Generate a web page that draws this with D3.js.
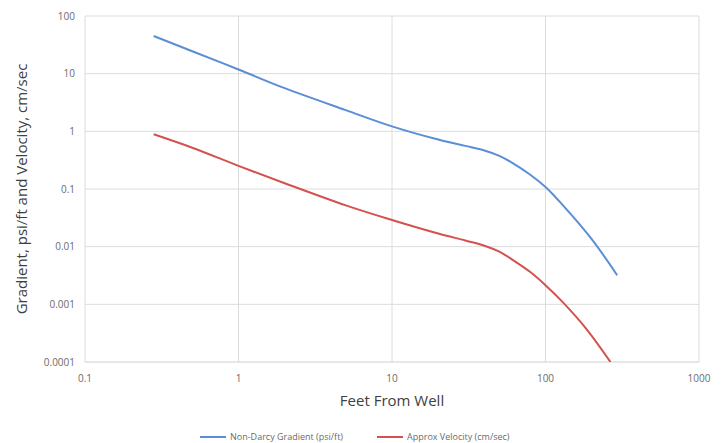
<!DOCTYPE html>
<html>
<head>
<meta charset="utf-8">
<script src="https://cdn.jsdelivr.net/npm/d3@7"></script>
<style>
  body { margin: 0; background: #fff; }
  svg { display: block; font-family: "Open Sans", "Noto Sans", sans-serif; }
</style>
</head>
<body>
<div id="chart"></div>
<script>
// data (log-log plot)
var feet = [0.28, 0.5, 1, 2, 5, 10, 20, 30, 40, 50, 60, 80, 100, 130, 200, 293];
var gradient = [45, 24.5, 11.8, 5.6, 2.33, 1.22, 0.72, 0.56, 0.465, 0.375, 0.29, 0.175, 0.108, 0.052, 0.0135, 0.0032];
var velFeet = [0.28, 0.5, 1, 2, 5, 10, 20, 30, 40, 50, 60, 80, 100, 130, 186, 265];
var velocity = [0.89, 0.52, 0.252, 0.126, 0.052, 0.029, 0.0169, 0.0128, 0.0104, 0.0082, 0.0061, 0.0036, 0.00215, 0.00108, 0.000365, 0.0001];
var xTicks = [0.1, 1, 10, 100, 1000];
var yTicks = [0.0001, 0.001, 0.01, 0.1, 1, 10, 100];
var yTickLabels = ["0.0001", "0.001", "0.01", "0.1", "1", "10", "100"];
var seriesNames = ["Non-Darcy Gradient (psi/ft)", "Approx Velocity (cm/sec)"];
var seriesColors = ["#5b8ed6", "#d4524e"];

var width = 727, height = 443;
var margin = { top: 16, left: 85, right: 28, bottom: 81 };
var chartWidth = width - margin.left - margin.right;
var chartHeight = height - margin.top - margin.bottom;

var svg = d3.select("#chart").append("svg")
  .attr("width", width)
  .attr("height", height);

var g = svg.append("g")
  .attr("transform", `translate(${margin.left},${margin.top})`);

var x = d3.scaleLog().domain([0.1, 1000]).range([0, chartWidth]);
var y = d3.scaleLog().domain([0.0001, 100]).range([chartHeight, 0]);

// gridlines
g.selectAll(".vgrid").data(xTicks).enter().append("line")
  .attr("x1", d => x(d)).attr("x2", d => x(d))
  .attr("y1", 0).attr("y2", chartHeight)
  .attr("stroke", "#dcdcdc").attr("stroke-width", 1);

g.selectAll(".hgrid").data(yTicks).enter().append("line")
  .attr("x1", 0).attr("x2", chartWidth)
  .attr("y1", d => y(d)).attr("y2", d => y(d))
  .attr("stroke", d => d === 0.0001 ? "#cfcfcf" : "#dcdcdc").attr("stroke-width", 1);

// tick labels
g.selectAll(".xlab").data(xTicks).enter().append("text")
  .attr("x", d => x(d)).attr("y", chartHeight + 20)
  .attr("text-anchor", "middle")
  .attr("font-size", 10).attr("fill", "#6b6b6b")
  .text(d => String(d));

g.selectAll(".ylab").data(yTicks).enter().append("text")
  .attr("x", -10).attr("y", d => y(d) + 3.5)
  .attr("text-anchor", "end")
  .attr("font-size", 10).attr("fill", "#6b6b6b")
  .text((d, i) => yTickLabels[i]);

// lines
g.append("clipPath").attr("id", "clip").append("rect")
  .attr("width", chartWidth).attr("height", chartHeight);

var line = d3.line().curve(d3.curveCatmullRom.alpha(0.5));

var series = [
  feet.map((f, i) => [x(f), y(gradient[i])]),
  velFeet.map((f, i) => [x(f), y(velocity[i])])
];

g.selectAll(".series").data(series).enter().append("path")
  .attr("clip-path", "url(#clip)")
  .attr("d", d => line(d))
  .attr("fill", "none")
  .attr("stroke", (d, i) => seriesColors[i])
  .attr("stroke-width", 2);

// axis titles
g.append("text")
  .attr("x", chartWidth / 2).attr("y", chartHeight + 44)
  .attr("text-anchor", "middle")
  .attr("font-size", 15).attr("fill", "#404040")
  .text("Feet From Well");

svg.append("text")
  .attr("transform", `translate(27,${margin.top + chartHeight / 2}) rotate(-90)`)
  .attr("text-anchor", "middle")
  .attr("font-size", 15).attr("fill", "#404040")
  .text("Gradient, psi/ft and Velocity, cm/sec");

// legend
var legendX = [200, 377];
var legend = svg.selectAll(".legend").data(seriesNames).enter().append("g")
  .attr("transform", (d, i) => `translate(${legendX[i]},437)`);

legend.append("line")
  .attr("x1", 0).attr("x2", 26).attr("y1", 0).attr("y2", 0)
  .attr("stroke", (d, i) => seriesColors[i]).attr("stroke-width", 2);

legend.append("text")
  .attr("x", 30).attr("y", 3)
  .attr("font-size", 9).attr("fill", "#6b6b6b")
  .text(d => d);
</script>
</body>
</html>
